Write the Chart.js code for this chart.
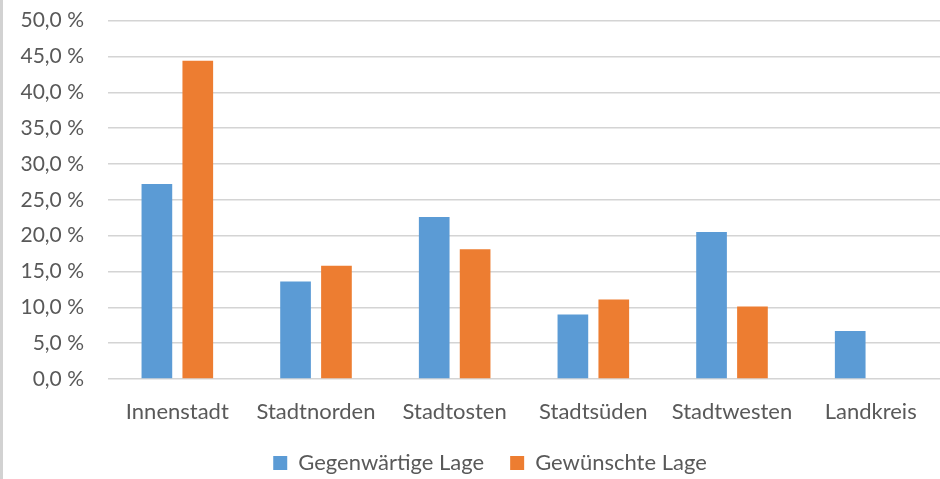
<!DOCTYPE html>
<html>
<head>
<meta charset="utf-8">
<script src="https://cdn.jsdelivr.net/npm/chart.js@4"></script>
<style>
  html, body { margin: 0; padding: 0; background: #fff; overflow: hidden; }
  #wrap { position: relative; width: 940px; height: 479px; overflow: hidden; }
  #myChart { position: absolute; left: 0; top: -16px; }
  #edge { position: absolute; left: 0; top: 0; width: 3px; height: 479px; background: #d2d2d2; }
</style>
</head>
<body>
<div id="wrap">
  <canvas id="myChart" width="940" height="500"></canvas>
  <div id="edge"></div>
</div>
<script>
const categories = ["Innenstadt", "Stadtnorden", "Stadtosten", "Stadtsüden", "Stadtwesten", "Landkreis"];
const seriesNames = ["Gegenwärtige Lage", "Gewünschte Lage"];
const gegenwaertig = [27.2, 13.6, 22.6, 9.0, 20.5, 6.7];
const gewuenscht = [44.4, 15.8, 18.1, 11.1, 10.1, 0];
const yMin = 0;
const yMax = 50;
const yStep = 5;

const fontFamily = "Lato, 'Open Sans', sans-serif";
const textColor = "#595959";

function formatPercent(v) {
    return v.toFixed(1).replace(".", ",") + " %";
}

// Legende etwas nach rechts schieben (wie im Original)
const legendShift = {
    id: "legendShift",
    afterLayout(chart) {
        chart.legend.left += 20;
        chart.legend.right += 20;
    }
};

const ctx = document.getElementById("myChart").getContext("2d");

new Chart(ctx, {
    type: "bar",
    data: {
        labels: categories,
        datasets: [{
            label: seriesNames[0],
            data: gegenwaertig,
            backgroundColor: "#5B9BD5",
            categoryPercentage: 0.59,
            barPercentage: 0.75
        }, {
            label: seriesNames[1],
            data: gewuenscht,
            backgroundColor: "#ED7D31",
            categoryPercentage: 0.59,
            barPercentage: 0.75
        }]
    },
    plugins: [legendShift],
    options: {
        responsive: false,
        animation: false,
        layout: {
            padding: { top: 0, left: 0, right: 0, bottom: 0 }
        },
        scales: {
            x: {
                afterFit: function (scale) { scale.height = 47; },
                grid: { display: false },
                border: { display: false },
                ticks: {
                    color: textColor,
                    font: { family: fontFamily, size: 22 },
                    padding: 12,
                    maxRotation: 0
                }
            },
            y: {
                min: yMin,
                max: yMax,
                afterFit: function (scale) { scale.width = 108; },
                grid: { color: "#d4d4d4", lineWidth: 1.5, drawTicks: false },
                border: { display: false },
                ticks: {
                    stepSize: yStep,
                    color: textColor,
                    font: { family: fontFamily, size: 21 },
                    padding: 24,
                    callback: function (v) { return formatPercent(v); }
                }
            }
        },
        plugins: {
            legend: {
                position: "bottom",
                labels: {
                    color: textColor,
                    font: { family: fontFamily, size: 22 },
                    boxWidth: 14,
                    boxHeight: 14,
                    padding: 26
                }
            },
            tooltip: { enabled: false }
        }
    }
});
</script>
</body>
</html>
